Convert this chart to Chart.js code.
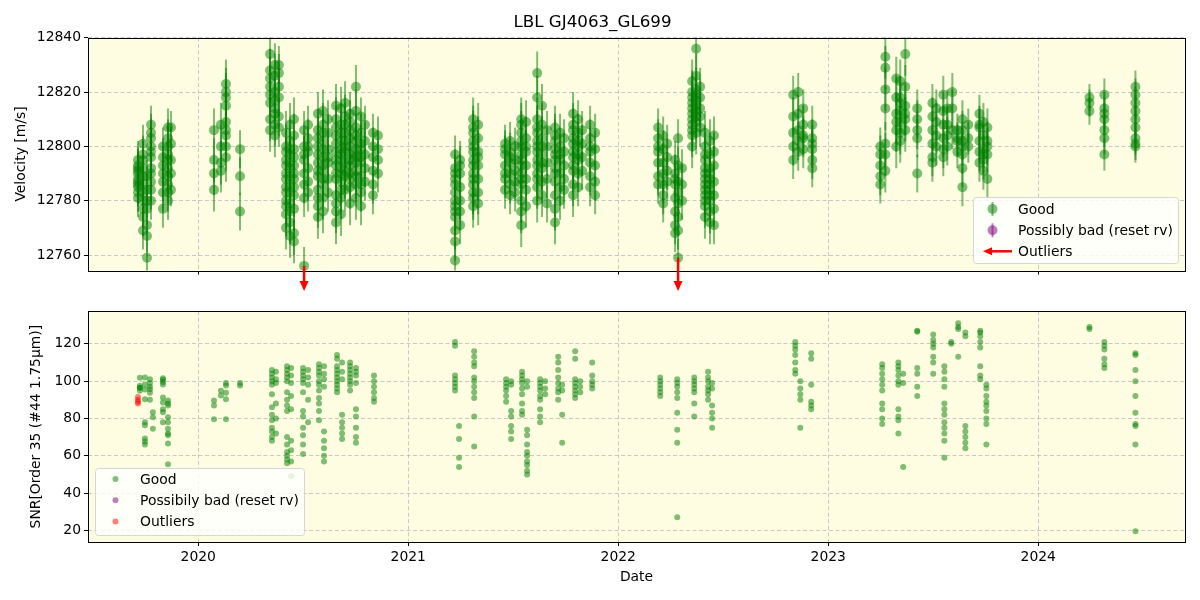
<!DOCTYPE html>
<html>
<head>
<meta charset="utf-8">
<script src="https://cdn.jsdelivr.net/npm/chart.js@4.4.1/dist/chart.umd.min.js"></script>
<style>
  body { margin: 0; background: #fff; }
  #wrap { position: relative; width: 1200px; height: 600px; }
  canvas { position: absolute; left: 0; }
</style>
</head>
<body>
<div id="wrap">
  <canvas id="rvChart" width="1200" height="300" style="top:0"></canvas>
  <canvas id="snrChart" width="1200" height="300" style="top:300px"></canvas>
</div>
<script>
// dates are decimal years, one entry per group of nights
const xTicks = [2020, 2021, 2022, 2023, 2024];
const rvTicks = [12760, 12780, 12800, 12820, 12840];
const snrTicks = [20, 40, 60, 80, 100, 120];

const rvDates = [
  2019.713, 2019.737, 2019.756, 2019.775, 2019.832, 2019.856, 2019.870,
  2020.075, 2020.108, 2020.132, 2020.199,
  2020.342, 2020.365, 2020.384, 2020.418, 2020.437, 2020.456, 2020.504, 2020.523,
  2020.570, 2020.594, 2020.618, 2020.656, 2020.680, 2020.699, 2020.723, 2020.751,
  2020.775, 2020.794, 2020.832, 2020.856,
  2021.223, 2021.247, 2021.309, 2021.333, 2021.461, 2021.485, 2021.509, 2021.538,
  2021.561, 2021.614, 2021.637, 2021.661, 2021.699, 2021.723, 2021.742, 2021.785,
  2021.809, 2021.828, 2021.866, 2021.890,
  2022.190, 2022.214, 2022.233, 2022.271, 2022.285, 2022.304, 2022.352, 2022.371,
  2022.390, 2022.413, 2022.437, 2022.456,
  2022.833, 2022.857, 2022.881, 2022.924,
  2023.248, 2023.272, 2023.324, 2023.343, 2023.367, 2023.424, 2023.496, 2023.515,
  2023.548, 2023.567, 2023.591, 2023.615, 2023.639, 2023.667, 2023.720, 2023.739, 2023.758,
  2024.244, 2024.315, 2024.463
];
const rvValues = [
  // 2019
  [12793, 12790, 12785, 12783, 12788, 12795, 12791, 12786, 12787, 12792, 12781],
  [12801, 12797, 12774, 12780, 12786, 12792, 12769, 12783, 12789, 12777, 12795],
  [12789, 12767, 12759, 12771, 12777, 12784, 12780],
  [12808, 12803, 12800, 12796, 12792, 12787, 12784, 12780, 12805, 12798, 12790],
  [12800, 12796, 12790, 12783, 12777, 12787, 12793],
  [12807, 12803, 12797, 12792, 12786, 12780, 12800, 12789, 12795, 12783],
  [12807, 12801, 12795, 12790, 12784],
  // 2020
  [12806, 12795, 12790, 12784],
  [12808, 12800, 12794, 12791],
  [12823, 12820, 12818, 12815, 12809, 12806, 12804, 12800, 12796],
  [12799, 12789, 12776],
  [12834, 12828, 12822, 12816, 12810, 12806, 12819, 12825],
  [12830, 12826, 12820, 12814, 12808, 12804, 12812, 12817],
  [12827, 12822, 12818, 12811, 12807, 12830],
  [12805, 12800, 12795, 12790, 12785, 12780, 12775, 12770, 12798, 12788, 12793, 12783, 12778],
  [12808, 12802, 12797, 12792, 12786, 12779, 12772, 12767, 12783, 12794, 12799, 12789, 12776],
  [12810, 12804, 12799, 12793, 12788, 12782, 12777, 12768, 12765, 12796, 12790, 12785],
  [12806, 12800, 12795, 12790, 12786, 12781, 12797, 12756],
  [12808, 12803, 12798, 12792, 12787, 12783, 12800],
  [12812, 12806, 12800, 12794, 12789, 12784, 12778, 12774, 12797, 12803, 12791, 12781],
  [12813, 12808, 12802, 12796, 12791, 12786, 12781, 12776, 12799, 12793, 12805, 12788],
  [12810, 12805, 12799, 12794, 12788, 12783, 12796],
  [12815, 12810, 12804, 12798, 12793, 12788, 12782, 12776, 12772, 12801, 12807, 12795, 12790, 12779],
  [12814, 12808, 12802, 12797, 12792, 12787, 12781, 12775, 12795, 12790, 12805, 12799, 12784],
  [12816, 12811, 12805, 12800, 12794, 12789, 12784, 12798, 12808, 12802, 12791],
  [12812, 12806, 12800, 12795, 12790, 12785, 12779, 12803, 12797, 12809, 12793, 12788],
  [12822, 12813, 12807, 12802, 12796, 12791, 12786, 12781, 12799, 12794, 12804, 12797, 12789],
  [12811, 12805, 12799, 12794, 12789, 12783, 12778, 12801, 12796, 12786],
  [12808, 12802, 12797, 12792, 12787],
  [12805, 12800, 12796, 12791, 12786, 12782],
  [12804, 12799, 12795, 12790],
  // 2021
  [12797, 12792, 12788, 12783, 12778, 12774, 12769, 12765, 12758, 12786, 12780, 12790, 12776],
  [12795, 12790, 12785, 12780, 12776, 12771, 12793],
  [12810, 12805, 12800, 12795, 12790, 12786, 12781, 12778, 12798, 12802, 12807, 12793, 12788, 12783],
  [12808, 12803, 12798, 12793, 12788, 12783, 12779, 12796],
  [12801, 12797, 12793, 12788, 12784, 12799, 12790],
  [12802, 12798, 12794, 12790, 12786, 12782, 12796],
  [12800, 12795, 12791, 12787, 12783],
  [12810, 12805, 12800, 12795, 12790, 12786, 12780, 12771, 12808, 12797, 12802, 12793, 12788, 12776],
  [12809, 12803, 12798, 12793, 12788, 12784, 12778, 12800],
  [12827, 12818, 12810, 12805, 12800, 12795, 12790, 12785, 12780, 12798, 12802, 12807, 12793, 12788],
  [12815, 12808, 12803, 12797, 12792, 12787, 12782, 12800, 12794],
  [12806, 12800, 12794, 12788, 12779],
  [12807, 12802, 12797, 12792, 12787, 12782, 12777, 12772, 12799, 12804, 12795, 12790],
  [12805, 12800, 12795, 12790, 12785, 12780, 12797],
  [12803, 12798, 12793, 12788, 12784],
  [12812, 12806, 12801, 12796, 12791, 12786, 12782, 12798, 12808, 12803, 12793],
  [12810, 12805, 12800, 12795, 12790, 12785, 12802, 12797],
  [12806, 12801, 12796, 12791],
  [12808, 12803, 12798, 12794, 12789, 12785, 12800],
  [12805, 12799, 12793, 12787, 12782],
  // 2022
  [12807, 12803, 12798, 12794, 12789, 12786, 12800],
  [12804, 12799, 12794, 12790, 12786, 12782, 12779],
  [12801, 12796, 12791, 12787],
  [12795, 12790, 12786, 12781, 12776, 12771, 12768, 12788],
  [12803, 12793, 12787, 12783, 12779, 12774, 12769, 12759],
  [12792, 12786, 12780],
  [12824, 12820, 12816, 12812, 12808, 12804, 12800, 12818, 12810, 12814, 12806],
  [12836, 12826, 12821, 12817, 12813, 12809, 12805, 12815, 12819, 12811],
  [12822, 12818, 12814, 12811, 12807],
  [12805, 12800, 12795, 12790, 12786, 12782, 12778, 12774, 12788, 12797, 12792, 12784, 12780],
  [12802, 12797, 12792, 12788, 12784, 12780, 12776, 12772, 12786, 12790, 12782],
  [12804, 12798, 12793, 12787, 12782, 12777, 12771],
  [12819, 12811, 12805, 12800, 12795],
  [12820, 12812, 12806, 12802, 12798],
  [12814, 12808, 12803, 12799, 12804],
  [12808, 12803, 12799, 12795, 12792, 12801],
  // 2023
  [12797, 12793, 12789, 12786, 12800],
  [12833, 12829, 12821, 12814, 12801, 12797, 12791],
  [12818, 12812, 12806, 12800, 12825, 12809],
  [12824, 12818, 12813, 12809, 12805, 12802, 12816],
  [12834, 12822, 12815, 12810, 12806, 12812],
  [12814, 12810, 12806, 12803, 12790],
  [12816, 12811, 12806, 12801, 12796, 12794],
  [12814, 12809, 12804, 12800],
  [12819, 12813, 12808, 12803, 12799, 12796],
  [12814, 12808, 12804, 12800],
  [12820, 12814, 12806],
  [12806, 12802, 12798, 12803],
  [12810, 12806, 12802, 12797, 12792, 12785, 12800],
  [12808, 12803, 12800],
  [12812, 12807, 12802, 12798, 12794, 12808],
  [12809, 12804, 12799, 12795, 12791, 12797],
  [12807, 12802, 12797, 12788, 12800],
  // 2024
  [12818, 12816, 12813],
  [12819, 12814, 12810, 12806, 12803, 12797, 12812],
  [12822, 12819, 12816, 12813, 12810, 12807, 12803, 12800, 12801]
];
const rvErrors = [
  7, 7, 6, 7, 7, 7, 6,
  8, 8, 9, 7,
  8, 8, 7, 8, 8, 8, 7, 7,
  8, 8, 7, 8, 8, 8, 8, 8,
  7, 7, 7, 7,
  7, 7, 8, 8, 7, 7, 7, 8,
  8, 8, 8, 7, 8, 7, 7, 8,
  7, 7, 7, 7,
  7, 7, 7, 7, 7, 7, 8, 8,
  7, 8, 8, 7,
  7, 7, 7, 7,
  7, 8, 8, 8, 8, 7, 7, 7,
  7, 7, 7, 6, 7, 6, 7, 7, 7,
  5, 6, 6
];

// rv points that fall at the bottom edge, flagged with arrows
const arrowDates = [2020.504, 2022.285];
const arrowValues = [12756, 12759];

const snrDates = [
  2019.722, 2019.746, 2019.770, 2019.784, 2019.832, 2019.856,
  2020.075, 2020.108, 2020.132, 2020.199,
  2020.351, 2020.370, 2020.423, 2020.442, 2020.499, 2020.523, 2020.575, 2020.599,
  2020.661, 2020.685, 2020.723, 2020.751, 2020.837,
  2021.223, 2021.242, 2021.314, 2021.466, 2021.490, 2021.542, 2021.566, 2021.628,
  2021.652, 2021.714, 2021.733, 2021.795, 2021.819, 2021.876,
  2022.200, 2022.281, 2022.362, 2022.428, 2022.447,
  2022.843, 2022.867, 2022.919,
  2023.257, 2023.334, 2023.357, 2023.424, 2023.500, 2023.553, 2023.586, 2023.619,
  2023.653, 2023.724, 2023.753,
  2024.244, 2024.315, 2024.463
];
const snrValues = [
  [96.5, 94.9, 96.5, 101.8, 97.5],
  [102, 98.2, 90.3, 78, 76.3, 69.3, 67.6, 66, 95.5],
  [99, 95.6, 93.8, 90, 97, 101],
  [83.3, 80.7, 74.5],
  [100.8, 98.2, 91.2, 88.6, 85, 83.3, 78, 101.5, 99.5],
  [74.5, 71, 72, 66.6, 78, 80.7, 89.6, 87, 55.4, 88],
  [89.6, 87, 79.6],
  [94.9, 92.3],
  [99, 97.6, 93.8, 90.3, 79.6],
  [99, 97.6],
  [106, 104, 102, 100, 98, 93, 86, 82, 79, 75, 73, 70, 68],
  [105, 101, 99, 88, 80, 72],
  [108, 106, 104, 102, 100, 94, 90, 87, 84, 70, 66, 62, 60, 58, 56],
  [107, 103, 99, 92, 85, 68, 63, 57, 49],
  [107, 105, 103, 101, 99, 94, 84, 81, 75, 71, 66, 61],
  [106, 102, 98, 90, 78],
  [109, 107, 105, 103, 100, 98, 95, 91, 88, 84, 79],
  [108, 104, 101, 97, 73, 68, 64, 60, 57],
  [114, 112, 108, 106, 104, 102, 100, 98, 96, 94],
  [110, 105, 101, 82, 78, 75, 72, 69],
  [110, 108, 106, 104, 102, 100, 98, 95],
  [107, 105, 103, 99, 85, 81, 75, 70, 67],
  [103, 100, 97, 94, 91, 89],
  [121, 119, 103, 101, 99, 97, 95],
  [76, 69, 59, 54],
  [116, 113, 110, 108, 102, 100, 97, 94, 91, 81, 65],
  [101, 99, 97, 95, 92, 89],
  [84, 81, 76, 73, 69, 98, 100],
  [105, 103, 101, 99, 96, 93, 88, 84, 82],
  [74, 71, 66, 62, 60, 57, 55, 52, 50, 100, 97],
  [101, 99, 97, 95, 92, 90, 85, 81, 78],
  [100, 96, 93],
  [113, 110, 106, 102, 99, 96, 94, 90],
  [82, 67, 98, 95],
  [116, 112, 101, 99, 97, 95, 93, 91],
  [100, 97, 94],
  [110, 103, 100, 98, 96],
  [102, 100, 98, 96, 94, 92],
  [101, 99, 97, 94, 91, 83, 74, 67, 27],
  [102, 100, 98, 96, 94, 88, 81],
  [105, 102, 100, 97, 95, 93, 90],
  [87, 83, 80, 75, 99, 96],
  [121, 119, 117, 114, 110, 106, 104],
  [100, 96, 93, 90, 75],
  [115, 112, 98, 89, 87, 85],
  [109, 107, 104, 101, 98, 95, 88, 85, 80, 77],
  [110, 108, 106, 103, 100, 98, 85, 81, 79, 72],
  [54, 104, 99],
  [127, 126.5, 107, 104, 97, 92],
  [125, 122, 120, 118, 113, 110, 104],
  [108, 105, 101, 97, 88, 85, 82, 78, 75, 72, 68, 59],
  [121, 120],
  [131, 129, 128, 113],
  [126, 124, 76, 73, 70, 67, 64],
  [127, 126, 124, 121, 118, 108, 103, 101],
  [98, 96, 92, 89, 87, 84, 80, 77, 66],
  [129, 128],
  [121, 119, 117, 112, 109, 107],
  [115, 114, 106, 100, 92, 83, 77, 76, 66, 19.5]
];
const snrOutDates = [2019.713];
const snrOutValues = [[91.5, 90, 89, 88]];

const X_MIN = 2019.475, X_MAX = 2024.699;
const FONT = "'DejaVu Sans', sans-serif";
const GREEN = 'rgba(0, 128, 0, 0.5)';
const PURPLE = 'rgba(128, 0, 128, 0.5)';
const RED_A = 'rgba(255, 0, 0, 0.5)';
const GRID = 'rgba(176, 176, 190, 0.7)';

Chart.defaults.font.family = FONT;
Chart.defaults.font.size = 13.9;
Chart.defaults.color = '#000';

function toPoints(dates, values, errors) {
    const pts = [];
    dates.forEach((d, i) => {
        values[i].forEach(v => pts.push({ x: d, y: v, e: errors ? errors[i] : 0 }));
    });
    return pts;
}

function fixedTicks(list) {
    return axis => { axis.ticks = list.map(v => ({ value: v })); };
}

// plot background and the four-sided frame
const framePlugin = {
    id: 'frame',
    beforeDraw(chart) {
        const { ctx, chartArea: a } = chart;
        ctx.save();
        ctx.fillStyle = '#fefde1';
        ctx.fillRect(a.left, a.top, a.right - a.left, a.bottom - a.top);
        ctx.restore();
    },
    afterDraw(chart) {
        const { ctx, chartArea: a } = chart;
        ctx.save();
        ctx.strokeStyle = '#000';
        ctx.lineWidth = 1;
        ctx.strokeRect(Math.round(a.left) + 0.5, Math.round(a.top) + 0.5,
            Math.round(a.right - a.left), Math.round(a.bottom - a.top));
        ctx.restore();
    }
};

const errorBarPlugin = {
    id: 'errorBars',
    beforeDatasetsDraw(chart) {
        const { ctx, chartArea: a, scales: { x, y } } = chart;
        ctx.save();
        ctx.beginPath();
        ctx.rect(a.left, a.top, a.right - a.left, a.bottom - a.top);
        ctx.clip();
        ctx.strokeStyle = GREEN;
        ctx.lineWidth = 2;
        chart.data.datasets[0].data.forEach(p => {
            const px = x.getPixelForValue(p.x);
            ctx.beginPath();
            ctx.moveTo(px, y.getPixelForValue(p.y - p.e));
            ctx.lineTo(px, y.getPixelForValue(p.y + p.e));
            ctx.stroke();
        });
        ctx.restore();
    }
};

function arrowDown(ctx, x, y1, y2) {
    ctx.beginPath();
    ctx.moveTo(x, y1);
    ctx.lineTo(x, y2 - 9);
    ctx.stroke();
    ctx.beginPath();
    ctx.moveTo(x - 4.5, y2 - 10);
    ctx.lineTo(x + 4.5, y2 - 10);
    ctx.lineTo(x, y2);
    ctx.closePath();
    ctx.fill();
}

const arrowPlugin = {
    id: 'arrows',
    afterDraw(chart) {
        const { ctx, chartArea: a, scales: { x, y } } = chart;
        ctx.save();
        ctx.strokeStyle = '#ff0000';
        ctx.fillStyle = '#ff0000';
        ctx.lineWidth = 2.5;
        arrowDates.forEach((d, i) => {
            arrowDown(ctx, x.getPixelForValue(d), y.getPixelForValue(arrowValues[i]), a.bottom + 20.5);
        });
        ctx.restore();
    }
};

function legendBox(ctx, x, y, w, h) {
    ctx.save();
    ctx.beginPath();
    ctx.roundRect(x + 0.5, y + 0.5, w, h, 3);
    ctx.fillStyle = 'rgba(255, 255, 255, 0.8)';
    ctx.fill();
    ctx.strokeStyle = '#d6d6d6';
    ctx.lineWidth = 1;
    ctx.stroke();
    ctx.restore();
}

const rvLegend = {
    id: 'rvLegend',
    afterDraw(chart) {
        const ctx = chart.ctx;
        legendBox(ctx, 973, 197, 205, 66);
        ctx.save();
        ctx.font = '13.9px ' + FONT;
        ctx.textBaseline = 'middle';
        ctx.fillStyle = '#000';
        const rows = [['Good', GREEN], ['Possibly bad (reset rv)', PURPLE]];
        rows.forEach((r, i) => {
            const cy = 209 + i * 21.3;
            ctx.strokeStyle = r[1];
            ctx.lineWidth = 2;
            ctx.beginPath();
            ctx.moveTo(992.5, cy - 7);
            ctx.lineTo(992.5, cy + 7);
            ctx.stroke();
            ctx.fillStyle = r[1];
            ctx.beginPath();
            ctx.arc(992.5, cy, 5, 0, Math.PI * 2);
            ctx.fill();
            ctx.fillStyle = '#000';
            ctx.fillText(r[0], 1018, cy + 1);
        });
        const cy = 251.3;
        ctx.strokeStyle = '#ff0000';
        ctx.fillStyle = '#ff0000';
        ctx.lineWidth = 2.5;
        ctx.beginPath();
        ctx.moveTo(1012, cy);
        ctx.lineTo(991, cy);
        ctx.stroke();
        ctx.beginPath();
        ctx.moveTo(992, cy - 4);
        ctx.lineTo(992, cy + 4);
        ctx.lineTo(983, cy);
        ctx.closePath();
        ctx.fill();
        ctx.fillStyle = '#000';
        ctx.fillText('Outliers', 1018, cy + 1);
        ctx.restore();
    }
};

const snrLegend = {
    id: 'snrLegend',
    afterDraw(chart) {
        const ctx = chart.ctx;
        // canvas is offset 300px from the page top
        legendBox(ctx, 95, 168, 209, 67);
        ctx.save();
        ctx.font = '13.9px ' + FONT;
        ctx.textBaseline = 'middle';
        const rows = [['Good', GREEN], ['Possibily bad (reset rv)', PURPLE], ['Outliers', RED_A]];
        rows.forEach((r, i) => {
            const cy = 179 + i * 21.2;
            ctx.fillStyle = r[1];
            ctx.beginPath();
            ctx.arc(115.5, cy, 3, 0, Math.PI * 2);
            ctx.fill();
            ctx.fillStyle = '#000';
            ctx.fillText(r[0], 140, cy + 1);
        });
        ctx.restore();
    }
};

function xScale(showLabels, height) {
    return {
        type: 'linear',
        min: X_MIN,
        max: X_MAX,
        afterBuildTicks: fixedTicks(xTicks),
        afterFit: s => { s.height = height; },
        ticks: { display: showLabels, padding: 3, callback: v => String(v) },
        grid: { color: GRID, tickColor: '#000', tickLength: 4, lineWidth: 1 },
        border: { display: false, dash: [4, 2.5] },
        title: showLabels
            ? { display: true, text: 'Date', font: { size: 13.9 }, padding: { top: 0, bottom: 14.5 } }
            : { display: false }
    };
}

function yScale(min, max, ticks, title, titlePad) {
    return {
        min: min,
        max: max,
        afterBuildTicks: fixedTicks(ticks),
        afterFit: s => { s.width = 88; },
        ticks: { padding: 3, callback: v => String(v) },
        grid: { color: GRID, tickColor: '#000', tickLength: 4, lineWidth: 1 },
        border: { display: false, dash: [4, 2.5] },
        title: { display: true, text: title, font: { size: 13.9 }, padding: { top: titlePad, bottom: 0 } }
    };
}

new Chart(document.getElementById('rvChart'), {
    type: 'scatter',
    data: {
        datasets: [
            {
                label: 'Good',
                data: toPoints(rvDates, rvValues, rvErrors),
                backgroundColor: GREEN,
                borderWidth: 0,
                pointRadius: 5
            },
            { label: 'Possibly bad (reset rv)', data: [], backgroundColor: PURPLE }
        ]
    },
    options: {
        responsive: false,
        animation: false,
        devicePixelRatio: 1,
        events: [],
        layout: { padding: { left: 0, right: 15, top: 0, bottom: 0 } },
        scales: {
            x: xScale(false, 29.5),
            y: yScale(12754.3, 12840.1, rvTicks, 'Velocity [m/s]', 12.7)
        },
        plugins: {
            legend: { display: false },
            tooltip: { enabled: false },
            title: {
                display: true,
                text: 'LBL GJ4063_GL699',
                color: '#000',
                font: { size: 16.7, weight: 'normal', lineHeight: 1.2 },
                padding: { top: 13, bottom: 4.5 }
            }
        }
    },
    plugins: [framePlugin, errorBarPlugin, arrowPlugin, rvLegend]
});

new Chart(document.getElementById('snrChart'), {
    type: 'scatter',
    data: {
        datasets: [
            {
                label: 'Good',
                data: toPoints(snrDates, snrValues),
                backgroundColor: GREEN,
                borderWidth: 0,
                pointRadius: 3
            },
            { label: 'Possibily bad (reset rv)', data: [], backgroundColor: PURPLE },
            {
                label: 'Outliers',
                data: toPoints(snrOutDates, snrOutValues),
                backgroundColor: RED_A,
                borderWidth: 0,
                pointRadius: 3
            }
        ]
    },
    options: {
        responsive: false,
        animation: false,
        devicePixelRatio: 1,
        events: [],
        layout: { padding: { left: 0, right: 15, top: 7.3, bottom: 0 } },
        scales: {
            x: xScale(true, 58),
            y: yScale(13.8, 137.4, snrTicks, 'SNR[Order 35 (#44 1.75μm)]', 28.5)
        },
        plugins: {
            legend: { display: false },
            tooltip: { enabled: false }
        }
    },
    plugins: [framePlugin, snrLegend]
});
</script>
</body>
</html>
